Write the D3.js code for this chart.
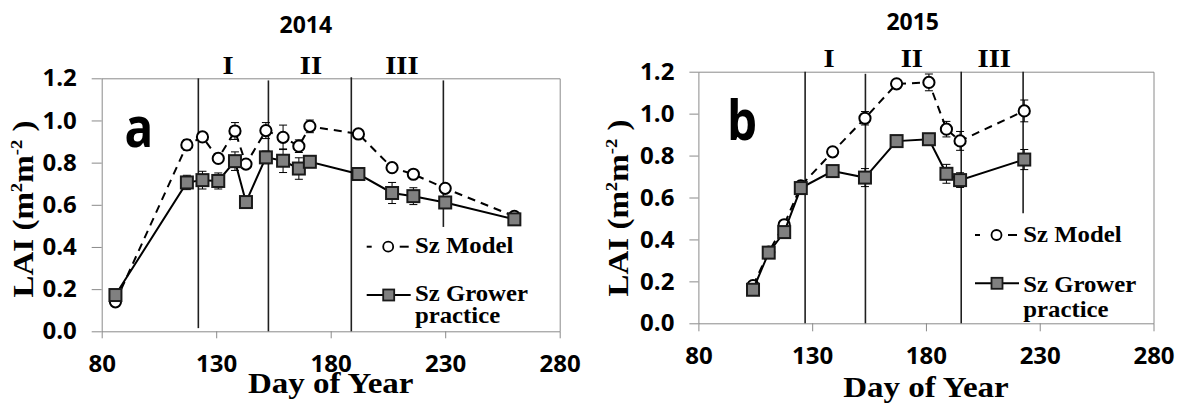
<!DOCTYPE html>
<html><head><meta charset="utf-8">
<script src="https://cdn.jsdelivr.net/npm/d3@7"></script>
<style>body{margin:0;background:#fff}svg{display:block}</style>
</head><body>
<svg id="chart" width="1180" height="403"></svg>
<script>
// ---------- data ----------
const xTicks = [80, 130, 180, 230, 280];
const yTicks = [0, 0.2, 0.4, 0.6, 0.8, 1.0, 1.2];
const phaseLabels = ["I", "II", "III"];
const modelName = "Sz Model";
const growerName = ["Sz Grower", "practice"];

// 2014
const days2014 = [86, 117.2, 124, 130.9, 138.2, 143, 151.7, 159.2, 166.1, 170.9, 192.1, 206.8, 216.1, 230, 260.2];
const model2014 = [0.14, 0.884, 0.922, 0.82, 0.95, 0.793, 0.952, 0.92, 0.878, 0.972, 0.936, 0.776, 0.745, 0.678, 0.545];
const modelErr2014 = [0.01, 0.025, 0.015, 0.015, 0.04, 0.015, 0.038, 0.058, 0.03, 0.03, 0.015, 0.02, 0.015, 0.02, 0.015];
const grower2014 = [0.172, 0.706, 0.717, 0.713, 0.807, 0.613, 0.825, 0.809, 0.772, 0.804, 0.746, 0.656, 0.641, 0.611, 0.531];
const growerErr2014 = [0.01, 0.034, 0.042, 0.038, 0.044, 0.01, 0.03, 0.056, 0.051, 0.02, 0.015, 0.05, 0.04, 0.02, 0.02];
const dividerDays2014 = [122.2, 152.8, 189.0, 229.2];
const dividerTop2014 = [1.2, 1.19, 1.205, 1.19];
const dividerBottom2014 = [0.015, 0, 0, 0.495];
const phaseDays2014 = [135.2, 171.4, 211.1];

// 2015
const days2015 = [104, 110.9, 117.7, 125, 139, 153.2, 167.1, 181.3, 189, 195, 223.2];
const model2015 = [0.18, 0.34, 0.47, 0.655, 0.818, 0.978, 1.142, 1.149, 0.926, 0.87, 1.013];
const modelErr2015 = [0.01, 0.01, 0.015, 0.01, 0.015, 0.032, 0.015, 0.04, 0.037, 0.045, 0.052];
const grower2015 = [0.16, 0.337, 0.435, 0.645, 0.726, 0.695, 0.869, 0.878, 0.713, 0.683, 0.781];
const growerErr2015 = [0.01, 0.01, 0.02, 0.015, 0.015, 0.043, 0.015, 0.015, 0.045, 0.035, 0.048];
const dividerDays2015 = [126.9, 153.4, 195.5, 222.7];
const dividerTop2015 = [1.2, 1.19, 1.2, 1.2];
const dividerBottom2015 = [0, 0, 0, 0.525];
const phaseDays2015 = [137.4, 173.8, 210.0];

// ---------- drawing ----------
const svg = d3.select("#chart");
svg.append("rect").attr("width", 1180).attr("height", 403).attr("fill", "#fff");

const SERIF = "'Liberation Serif','Times New Roman',serif";
const SANS = "'Open Sans','Noto Sans',sans-serif";
const axisColor = "#8a8a8a";

function txt(g, o) {
  const t = g.append("text")
    .attr("transform", `translate(${o.x},${o.y}) rotate(${o.rot || 0}) scale(${o.sx || 1},1)`)
    .attr("text-anchor", o.anchor || "start")
    .attr("font-family", o.family || SERIF)
    .attr("font-weight", "bold")
    .attr("font-size", o.size)
    .attr("fill", "#000");
  if (o.parts) {
    o.parts.forEach(pt => {
      const ts = t.append("tspan").text(pt.t);
      if (pt.size) ts.attr("font-size", pt.size);
      if (pt.dy) ts.attr("dy", pt.dy);
    });
  } else t.text(o.text);
  return t;
}

function drawPanel(p) {
  const g = svg.append("g");
  const x = d3.scaleLinear().domain([80, 280]).range([p.left, p.right]);
  const y = d3.scaleLinear().domain([0, 1.2]).range([p.bottom, p.top]);

  // frame top/right
  g.append("path")
    .attr("d", `M${p.left},${p.top + 0.5}H${p.right + 0.5}V${p.bottom}`)
    .attr("fill", "none").attr("stroke", axisColor).attr("stroke-width", 1);

  const ya = g.append("g").attr("transform", `translate(${p.left},0)`)
    .call(d3.axisLeft(y).tickValues(yTicks).tickFormat(d3.format(".1f"))
      .tickSize(p.yTickLen).tickPadding(p.yPad).tickSizeOuter(0));
  const xa = g.append("g").attr("transform", `translate(0,${p.bottom})`)
    .call(d3.axisBottom(x).tickValues(xTicks).tickFormat(d3.format("d"))
      .tickSize(p.xTickLen).tickPadding(p.xPad).tickSizeOuter(0));
  [ya, xa].forEach(a => {
    a.selectAll("path,line").attr("stroke", axisColor).attr("stroke-width", 1);
    a.selectAll("text").attr("font-family", SANS).attr("font-weight", "bold")
      .attr("font-size", 24).attr("fill", "#000");
  });

  // divider lines
  const div = p.dividerDays.map((d, i) => ({ d, t: p.dividerTop[i], b: p.dividerBottom[i] }));
  g.selectAll(".div").data(div).join("line")
    .attr("x1", d => x(d.d)).attr("x2", d => x(d.d))
    .attr("y1", d => y(d.t)).attr("y2", d => y(d.b))
    .attr("stroke", "#1f1f1f").attr("stroke-width", 1.6);

  const line = d3.line().x(d => x(d.d)).y(d => y(d.v));
  const model = p.days.map((d, i) => ({ d, v: p.model[i], e: p.modelErr[i] }));
  const grower = p.days.map((d, i) => ({ d, v: p.grower[i], e: p.growerErr[i] }));

  function errBars(data) {
    const eg = g.append("g").attr("stroke", "#000").attr("stroke-width", 1).attr("fill", "none");
    eg.selectAll("path").data(data).join("path")
      .attr("d", d => {
        const cx = x(d.d), y1 = y(d.v + d.e), y2 = y(d.v - d.e);
        return `M${cx},${y1}V${y2}M${cx - 4},${y1}H${cx + 4}M${cx - 4},${y2}H${cx + 4}`;
      });
  }

  // model series
  g.append("path").datum(model).attr("d", line)
    .attr("fill", "none").attr("stroke", "#000").attr("stroke-width", 2)
    .attr("stroke-dasharray", "8,6");
  errBars(model);
  g.selectAll(".mc").data(model).join("circle")
    .attr("cx", d => x(d.d)).attr("cy", d => y(d.v)).attr("r", 5.6)
    .attr("fill", "#fff").attr("stroke", "#000").attr("stroke-width", 2);

  // grower series
  g.append("path").datum(grower).attr("d", line)
    .attr("fill", "none").attr("stroke", "#000").attr("stroke-width", 2);
  errBars(grower);
  const s = 12;
  g.selectAll(".gs").data(grower).join("rect")
    .attr("x", d => x(d.d) - s / 2).attr("y", d => y(d.v) - s / 2)
    .attr("width", s).attr("height", s)
    .attr("fill", "#808080").attr("stroke", "#1a1a1a").attr("stroke-width", 2);

  // title, phase labels, panel letter
  txt(g, { x: p.titleX, y: p.titleY, text: p.title, size: 23, family: SANS, anchor: "middle" });
  phaseLabels.forEach((l, i) => txt(g, { x: x(p.phaseDays[i]), y: p.phaseY, text: l, size: 26, anchor: "middle", sx: 1.1 }));
  txt(g, { x: p.letterX, y: p.letterY, text: p.letter, size: 56, family: SANS, sx: 0.85 });

  // axis titles
  const xc = (p.left + p.right) / 2;
  txt(g, { x: xc, y: p.xTitleY, text: "Day of Year", size: 30, anchor: "middle", sx: 1.1 });
  txt(g, {
    x: p.yTitleX, y: p.yTitleY, rot: -90, size: 30, anchor: "middle", sx: 1.1,
    parts: [{ t: "LAI (m" }, { t: "2", size: 17, dy: -11 }, { t: "m", dy: 11 },
            { t: "-2", size: 17, dy: -11 }, { t: " )", dy: 11 }]
  });

  // legend
  const L = p.leg;
  const lg = g.append("g");
  lg.append("line").attr("x1", L.x).attr("x2", L.x + 5).attr("y1", L.my).attr("y2", L.my)
    .attr("stroke", "#000").attr("stroke-width", 2);
  lg.append("line").attr("x1", L.x + 33).attr("x2", L.x + 42).attr("y1", L.my).attr("y2", L.my)
    .attr("stroke", "#000").attr("stroke-width", 2);
  lg.append("circle").attr("cx", L.x + 21.5).attr("cy", L.my).attr("r", 5)
    .attr("fill", "#fff").attr("stroke", "#000").attr("stroke-width", 1.8);
  txt(lg, { x: L.tx, y: L.mb, text: modelName, size: 22.5, sx: 1.1 });
  lg.append("line").attr("x1", L.x).attr("x2", L.x + 44).attr("y1", L.gy).attr("y2", L.gy)
    .attr("stroke", "#000").attr("stroke-width", 2);
  lg.append("rect").attr("x", L.x + 22 - 5.5).attr("y", L.gy - 5.5).attr("width", 11).attr("height", 11)
    .attr("fill", "#808080").attr("stroke", "#1a1a1a").attr("stroke-width", 1.8);
  txt(lg, { x: L.tx, y: L.gb, text: growerName[0], size: 22.5, sx: 1.1 });
  txt(lg, { x: L.tx, y: L.pb, text: growerName[1], size: 22.5, sx: 1.1 });
}

drawPanel({
  left: 101.7, right: 559.7, top: 78.3, bottom: 331.3,
  yTickLen: 10, yPad: 15, xTickLen: 7, xPad: 17,
  days: days2014, model: model2014, modelErr: modelErr2014, grower: grower2014, growerErr: growerErr2014,
  dividerDays: dividerDays2014, dividerTop: dividerTop2014, dividerBottom: dividerBottom2014,
  phaseDays: phaseDays2014, phaseY: 74,
  title: "2014", titleX: 305.8, titleY: 33.3,
  letter: "a", letterX: 124.5, letterY: 147,
  xTitleY: 392.5, yTitleX: 33.3, yTitleY: 209,
  leg: { x: 366.7, tx: 415, my: 246.7, mb: 253.3, gy: 295, gb: 300.7, pb: 323.3 }
});

drawPanel({
  left: 698.4, right: 1153.5, top: 71.7, bottom: 323.3,
  yTickLen: 9, yPad: 15, xTickLen: 8, xPad: 16,
  days: days2015, model: model2015, modelErr: modelErr2015, grower: grower2015, growerErr: growerErr2015,
  dividerDays: dividerDays2015, dividerTop: dividerTop2015, dividerBottom: dividerBottom2015,
  phaseDays: phaseDays2015, phaseY: 66.7,
  title: "2015", titleX: 912.7, titleY: 30,
  letter: "b", letterX: 727, letterY: 140,
  xTitleY: 396.5, yTitleX: 627.5, yTitleY: 208,
  leg: { x: 975, tx: 1023.3, my: 235, mb: 241.7, gy: 283.3, gb: 291.7, pb: 316.7 }
});
</script>
</body></html>
